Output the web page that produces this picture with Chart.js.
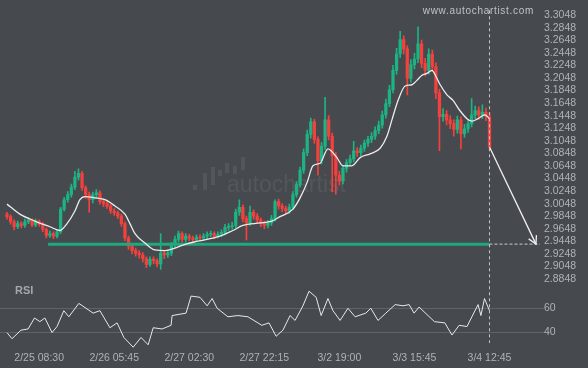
<!DOCTYPE html>
<html><head><meta charset="utf-8">
<script src="https://cdn.jsdelivr.net/npm/chart.js@4/dist/chart.umd.min.js"></script>
<style>
html,body{margin:0;padding:0;background:#464a4f;overflow:hidden}
#wrap{position:relative;width:588px;height:368px}
canvas{display:block}
</style>
</head><body><div id="wrap"><canvas id="c" width="588" height="368"></canvas></div>
<script>
// ---- data ----
const openP = [2.988,2.984,2.976,2.968,2.973,2.970,2.976,2.979,2.971,2.977,
 2.973,2.964,2.954,2.957,2.953,2.960,2.996,3.011,3.019,3.031,
 3.047,3.053,3.030,3.019,3.011,3.019,3.022,3.008,3.005,3.001,
 2.993,2.990,2.985,2.973,2.950,2.937,2.930,2.926,2.923,2.917,
 2.908,2.916,2.914,2.909,2.926,2.923,2.926,2.939,2.948,2.957,
 2.948,2.953,2.950,2.948,2.951,2.950,2.953,2.956,2.957,2.953,
 2.956,2.959,2.967,2.968,2.970,2.991,2.999,2.981,2.974,2.991,
 2.985,2.979,2.973,2.970,2.974,2.981,3.008,3.001,2.997,2.993,
 2.999,3.019,3.035,3.058,3.086,3.115,3.135,3.107,3.073,3.096,
 3.138,3.112,3.081,3.050,3.041,3.061,3.070,3.076,3.089,3.086,
 3.093,3.101,3.107,3.112,3.121,3.130,3.146,3.164,3.186,3.217,
 3.243,3.266,3.251,3.204,3.226,3.235,3.259,3.228,3.217,3.243,
 3.223,3.181,3.143,3.147,3.138,3.132,3.123,3.138,3.116,3.124,
 3.132,3.146,3.153,3.146,3.150,3.143];
const highP = [2.991,2.987,2.979,2.977,2.976,2.980,2.983,2.981,2.980,2.979,
 2.975,2.966,2.961,2.960,2.963,2.999,3.015,3.024,3.036,3.056,
 3.060,3.056,3.033,3.023,3.023,3.027,3.025,3.012,3.009,3.004,
 2.997,2.993,2.988,2.976,2.953,2.941,2.934,2.930,2.927,2.920,
 2.920,2.920,2.917,2.957,2.930,2.931,2.943,2.953,2.961,2.960,
 2.957,2.956,2.953,2.955,2.955,2.957,2.960,2.961,2.960,2.960,
 2.963,2.972,2.973,2.975,2.996,3.011,3.003,2.985,3.001,2.995,
 2.989,2.982,2.977,2.978,2.986,3.011,3.012,3.005,3.001,3.004,
 3.024,3.040,3.063,3.092,3.122,3.141,3.139,3.111,3.102,3.174,
 3.145,3.117,3.086,3.056,3.066,3.075,3.082,3.104,3.094,3.098,
 3.106,3.112,3.118,3.127,3.136,3.152,3.171,3.193,3.225,3.252,
 3.279,3.272,3.256,3.234,3.244,3.286,3.265,3.236,3.251,3.249,
 3.229,3.187,3.156,3.153,3.145,3.138,3.144,3.143,3.131,3.139,
 3.172,3.160,3.159,3.162,3.157,3.150];
const lowP = [2.980,2.972,2.963,2.965,2.966,2.967,2.973,2.968,2.968,2.969,
 2.960,2.950,2.951,2.949,2.950,2.957,2.993,3.007,3.015,3.027,
 3.042,3.026,3.013,2.991,3.006,3.014,3.004,3.000,2.997,2.989,
 2.986,2.981,2.969,2.946,2.932,2.925,2.921,2.918,2.912,2.903,
 2.905,2.909,2.904,2.900,2.917,2.919,2.922,2.935,2.944,2.944,
 2.944,2.946,2.943,2.945,2.946,2.946,2.949,2.952,2.949,2.950,
 2.952,2.955,2.962,2.964,2.966,2.986,2.976,2.947,2.970,2.980,
 2.974,2.968,2.965,2.966,2.970,2.977,2.996,2.992,2.988,2.989,
 2.995,3.015,3.031,3.053,3.081,3.109,3.101,3.050,3.068,3.091,
 3.106,3.024,3.020,3.034,3.036,3.055,3.065,3.071,3.080,3.081,
 3.088,3.096,3.102,3.107,3.116,3.125,3.141,3.159,3.181,3.211,
 3.237,3.243,3.178,3.198,3.219,3.229,3.221,3.208,3.211,3.215,
 3.172,3.089,3.136,3.130,3.124,3.112,3.117,3.092,3.110,3.118,
 3.127,3.140,3.139,3.140,3.137,3.090];
const closeP = [2.984,2.976,2.968,2.973,2.970,2.976,2.979,2.971,2.977,2.973,
 2.964,2.954,2.957,2.953,2.960,2.996,3.011,3.019,3.031,3.047,
 3.053,3.030,3.019,3.011,3.019,3.022,3.008,3.005,3.001,2.993,
 2.990,2.985,2.973,2.950,2.937,2.930,2.926,2.923,2.917,2.908,
 2.916,2.914,2.909,2.926,2.923,2.926,2.939,2.948,2.957,2.948,
 2.953,2.950,2.948,2.951,2.950,2.953,2.956,2.957,2.953,2.956,
 2.959,2.967,2.968,2.970,2.991,2.999,2.981,2.974,2.991,2.985,
 2.979,2.973,2.970,2.974,2.981,3.008,3.001,2.997,2.993,2.999,
 3.019,3.035,3.058,3.086,3.115,3.135,3.107,3.073,3.096,3.138,
 3.112,3.081,3.050,3.041,3.061,3.070,3.076,3.089,3.086,3.093,
 3.101,3.107,3.112,3.121,3.130,3.146,3.164,3.186,3.217,3.243,
 3.266,3.251,3.204,3.226,3.235,3.259,3.228,3.217,3.243,3.223,
 3.181,3.143,3.147,3.138,3.132,3.123,3.138,3.116,3.124,3.132,
 3.146,3.153,3.146,3.150,3.143,3.095];

const maIdx = [0,3.6,7.8,12,14.8,16.8,19,20.4,21.8,24.6,27.4,30.2,33,34.4,35.8,38.6,41.4,44.2,47,49.8,53.4,59.6,63.2,66,70.8,74.1,76.4,80,82,84,85.6,87.6,89.8,92.3,94,96.5,98.8,101.6,104.4,106.3,107.7,109.4,111.4,113.3,114.7,116.1,117.5,118.9,120.3,121.2,123.1,124.8,126.7,128.7,130.1,131.8,133.7,135];
const maVal = [3.004,2.988,2.977,2.968,2.962,2.973,2.993,3.011,3.016,3.014,3.011,3.001,2.988,2.973,2.957,2.942,2.931,2.930,2.934,2.940,2.945,2.953,2.962,2.970,2.974,2.977,2.984,2.996,3.014,3.039,3.065,3.069,3.092,3.078,3.065,3.065,3.078,3.084,3.093,3.112,3.138,3.169,3.192,3.194,3.201,3.209,3.212,3.217,3.204,3.194,3.178,3.169,3.153,3.140,3.136,3.140,3.146,3.140];

const rsiIdx = [0,1.4,3.9,5.9,7.7,9.2,10.6,12.6,14,15.9,17.3,20.1,22.1,24.1,26,28.8,30.8,32.7,35.3,37.5,39.5,40.9,43.4,45.9,46.2,50.1,51.5,54,56,57.4,58.8,61.8,64.6,67.4,71.3,73.3,75.3,77.2,79.2,80.6,82.8,84.5,86.5,87.9,89.8,91.2,93.2,95.4,97.4,100.4,101.8,103.8,106,108.6,110.8,112.5,113.9,115.3,117.8,119.6,122.5,124.5,126.5,128.7,131.8,132.6,133.6,135];
const rsiVal = [40,35,42,43,52,49,52,40,45,58,53,64,60,56,58,44,48,36,28,36,30,44,43,46,54,56,70,69,62,68,60,53,54,53,46,48,37,42,54,50,62,74,69,54,68,58,50,60,53,56,60,50,56,63,62,63,56,61,54,49,48,38,46,45,63,54,68,58];

const priceTicks = [3.3048,3.2848,3.2648,3.2448,3.2248,3.2048,3.1848,3.1648,3.1448,3.1248,3.1048,3.0848,3.0648,3.0448,3.0248,3.0048,2.9848,2.9648,2.9448,2.9248,2.9048,2.8848];
const rsiTicks = [40,60];
const timeLabels = ['2/25 08:30','2/26 05:45','2/27 02:30','2/27 22:15','3/2 19:00','3/3 15:45','3/4 12:45'];
const timeLabelIdx = [9,30,51,72,93,114,135];

const supportLevel = 2.9403;
const supportFrom = 11.5;
const lastIdx = 135;
const targetIdx = 148;
const targetPrice = 2.9403;

// ---- styling ----
const GREEN = '#1db383', RED = '#f5403d';
const TXT = '#aeb3b8';
const FONT = {family:"'Liberation Sans', Arial, sans-serif", size:10.5};
const X_MIN = -1.958, X_MAX = 149.13;

const idx = openP.map((_, i) => i);
const candleColors = idx.map(i => closeP[i] >= openP[i] ? GREEN : RED);

const deco = {
  id: 'deco',
  beforeDatasetsDraw(chart) {
    const {ctx} = chart;
    ctx.save();
    ctx.fillStyle = 'rgba(255,255,255,0.07)';
    const bars = [[195,185,190],[205,173,190],[213,167,185],[220,170,176],[227,163,173],[235,166,174],[243,157,170]];
    bars.forEach(b => ctx.fillRect(b[0]-2, b[1], 4, b[2]-b[1]));
    ctx.font = "23px 'Liberation Sans', Arial, sans-serif";
    ctx.textBaseline = 'alphabetic';
    ctx.fillText('autochartist', 227, 192);
    ctx.restore();
  },
  afterDatasetsDraw(chart) {
    const {ctx, chartArea} = chart;
    const xs = chart.scales.x, ys = chart.scales.y;
    ctx.save();
    const vx = Math.round(xs.getPixelForValue(lastIdx)) + 0.5;
    ctx.strokeStyle = '#c3c7cb';
    ctx.lineWidth = 1;
    ctx.setLineDash([3,3]);
    ctx.beginPath(); ctx.moveTo(vx, chartArea.top); ctx.lineTo(vx, chartArea.bottom - 3); ctx.stroke();
    ctx.setLineDash([]);
    const p1x = xs.getPixelForValue(lastIdx), p1y = ys.getPixelForValue(closeP[lastIdx]);
    const p2x = xs.getPixelForValue(targetIdx), p2y = ys.getPixelForValue(targetPrice);
    const a = Math.atan2(p2y - p1y, p2x - p1x);
    const L = 9, s = 0.5;
    ctx.strokeStyle = '#f0f0f0'; ctx.lineWidth = 1.3;
    ctx.beginPath();
    ctx.moveTo(p2x - L*Math.cos(a - s), p2y - L*Math.sin(a - s));
    ctx.lineTo(p2x, p2y);
    ctx.lineTo(p2x - L*Math.cos(a + s), p2y - L*Math.sin(a + s));
    ctx.stroke();
    ctx.fillStyle = '#a3a8ad';
    ctx.font = "bold 11px 'Liberation Sans', Arial, sans-serif";
    ctx.textBaseline = 'middle'; ctx.textAlign = 'left';
    ctx.fillText('RSI', 15, 291);
    ctx.fillStyle = '#bfc2c6';
    ctx.font = "10px 'Liberation Sans', Arial, sans-serif";
    ctx.textAlign = 'right';
    try { ctx.letterSpacing = '0.7px'; } catch(e) {}
    ctx.fillText('www.autochartist.com', 534, 11);
    ctx.restore();
  }
};

new Chart(document.getElementById('c'), {
  type: 'bar',
  data: {
    datasets: [
      { type:'line', label:'arrow', yAxisID:'y', data:[{x:lastIdx,y:closeP[lastIdx]},{x:targetIdx,y:targetPrice}],
        borderColor:'#f0f0f0', borderWidth:1.3, pointRadius:0, order:0, clip:false },
      { type:'line', label:'target', yAxisID:'y', data:[{x:lastIdx,y:targetPrice},{x:X_MAX,y:targetPrice}],
        borderColor:'#c8cbce', borderWidth:1, borderDash:[3,2], pointRadius:0, order:1 },
      { type:'line', label:'MA', yAxisID:'y', data: maIdx.map((x,k)=>({x, y:maVal[k]})),
        borderColor:'#ececec', borderWidth:1.3, pointRadius:0, cubicInterpolationMode:'monotone', order:2 },
      { type:'line', label:'support', yAxisID:'y', data:[{x:supportFrom,y:supportLevel},{x:lastIdx,y:supportLevel}],
        borderColor:'#1fa97c', borderWidth:3, pointRadius:0, order:3 },
      { type:'line', label:'RSI', yAxisID:'yRsi', data: rsiIdx.map((x,k)=>({x, y:rsiVal[k]})),
        borderColor:'#e8e8e8', borderWidth:1, pointRadius:0, tension:0, order:2, clip:6 },
      { type:'bar', label:'body', yAxisID:'y', data: idx.map(i=>({x:i, y:[openP[i], closeP[i]]})),
        backgroundColor:candleColors, barThickness:2.6, grouped:false, minBarLength:1, order:5 },
      { type:'bar', label:'wick', yAxisID:'y', data: idx.map(i=>({x:i, y:[lowP[i], highP[i]]})),
        backgroundColor:candleColors, barThickness:1, grouped:false, order:6 }
    ]
  },
  options: {
    responsive:false, animation:false, devicePixelRatio:1,
    layout:{padding:0},
    plugins:{legend:{display:false}, tooltip:{enabled:false}},
    scales:{
      x:{ type:'linear', min:X_MIN, max:X_MAX, offset:false,
          grid:{display:false, drawTicks:false}, border:{display:false},
          afterBuildTicks: s => { s.ticks = timeLabelIdx.map(v => ({value:v})); },
          ticks:{ autoSkip:false, maxRotation:0, color:TXT, font:FONT, padding:6,
                  callback:(v, i) => timeLabels[i] },
          afterFit: s => { s.height = 22; } },
      y:{ type:'linear', axis:'y', position:'right', stack:'p', stackWeight:282, min:2.877, max:3.3125,
          grid:{display:false, drawTicks:false}, border:{display:false},
          afterBuildTicks: s => { s.ticks = priceTicks.map(v => ({value:v})); },
          ticks:{ autoSkip:false, color:TXT, font:FONT, padding:4, callback: v => Number(v).toFixed(4) },
          afterFit: s => { s.width = 48; } },
      yRsi:{ type:'linear', axis:'y', position:'right', stack:'p', stackWeight:64, min:29, max:80,
          grid:{color:'#5e6368', lineWidth:1, drawTicks:true, tickLength:4}, border:{display:false},
          afterBuildTicks: s => { s.ticks = rsiTicks.map(v => ({value:v})); },
          ticks:{ autoSkip:false, color:TXT, font:FONT, padding:0, callback: v => String(v) },
          afterFit: s => { s.width = 48; } }
    }
  },
  plugins:[deco]
});
</script>
</body></html>
